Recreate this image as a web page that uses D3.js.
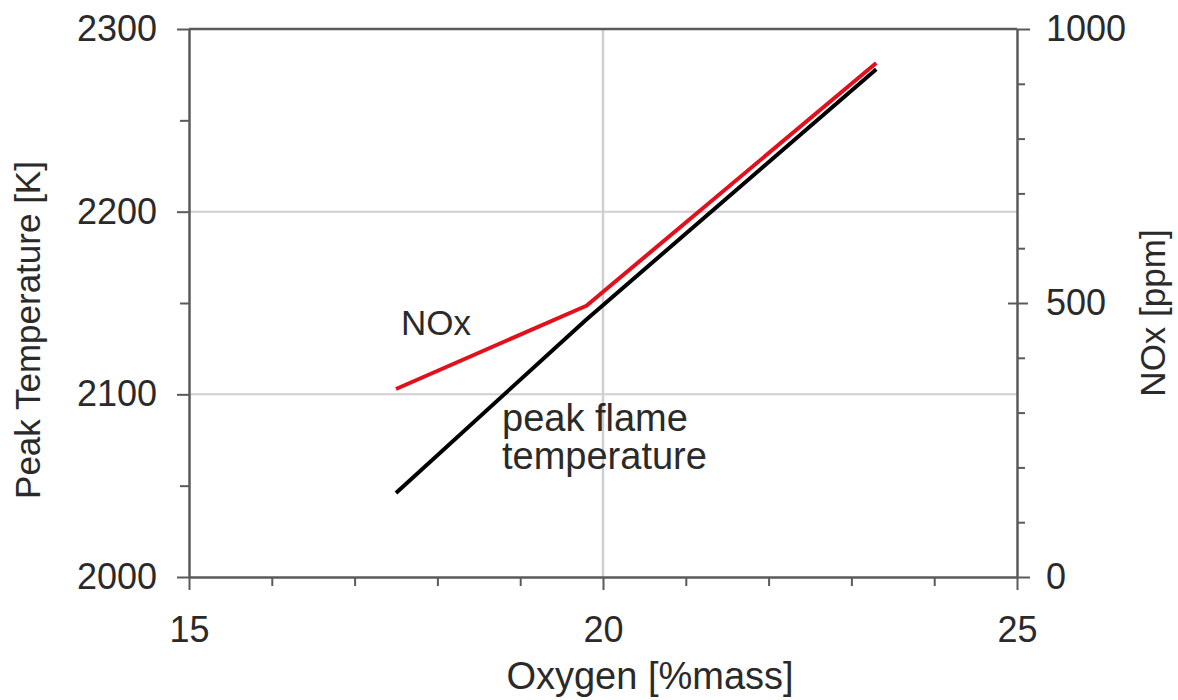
<!DOCTYPE html>
<html>
<head>
<meta charset="utf-8">
<script src="https://cdn.jsdelivr.net/npm/d3@7"></script>
<style>
  html, body { margin: 0; padding: 0; background: #fff; }
  svg { display: block; font-family: "Liberation Sans", Arial, sans-serif; }
</style>
</head>
<body>
<svg id="chart" width="1178" height="700"></svg>
<script>
// ---- data ----
const oxygen = [17.5, 19.8, 23.3];          // %mass
const peakTemp = [2046, 2141, 2278];        // K
const noxPpm = [343, 495, 938];             // ppm

const xTicks = [15, 20, 25];
const xMinorTicks = [16, 17, 18, 19, 21, 22, 23, 24];
const tempTicks = [2000, 2100, 2200, 2300];
const tempMinorTicks = [2050, 2150, 2250];
const noxTicks = [0, 500, 1000];
const noxMinorTicks = [100, 200, 300, 400, 600, 700, 800, 900];
const tempGrid = [2100, 2200];
const xGrid = [20];

const xTitle = "Oxygen [%mass]";
const yLeftTitle = "Peak Temperature [K]";
const yRightTitle = "NOx [ppm]";
const noxLabel = "NOx";
const tempLabel = ["peak flame", "temperature"];

// ---- layout ----
const L = 189, R = 1017, T = 29, B = 577;
const svg = d3.select("#chart");
const x = d3.scaleLinear().domain([15, 25]).range([L, R]);
const yT = d3.scaleLinear().domain([2000, 2300]).range([B, T]);
const yN = d3.scaleLinear().domain([0, 1000]).range([B, T]);

const axisColor = "#5a5a5a";
const gridColor = "#cfcfcf";
const textColor = "#2a2a2a";

// gridlines
svg.append("g").selectAll("line").data(tempGrid).join("line")
  .attr("x1", L).attr("x2", R)
  .attr("y1", d => yT(d)).attr("y2", d => yT(d))
  .attr("stroke", gridColor).attr("stroke-width", 2);
svg.append("g").selectAll("line").data(xGrid).join("line")
  .attr("x1", d => x(d)).attr("x2", d => x(d))
  .attr("y1", T).attr("y2", B)
  .attr("stroke", gridColor).attr("stroke-width", 2.5);

// top frame
svg.append("line").attr("x1", L).attr("x2", R).attr("y1", T).attr("y2", T)
  .attr("stroke", axisColor).attr("stroke-width", 2.5);

function styleAxis(g) {
  g.select(".domain").attr("stroke", axisColor).attr("stroke-width", 2.5);
  g.selectAll(".tick line").attr("stroke", axisColor).attr("stroke-width", 2);
  g.selectAll(".tick text").attr("fill", textColor).attr("font-size", 36)
    .attr("font-family", '"Liberation Sans", Arial, sans-serif');
}

// left axis
const gl = svg.append("g").attr("transform", `translate(${L},0)`)
  .call(d3.axisLeft(yT).tickValues(tempTicks).tickSize(12).tickSizeOuter(0).tickPadding(20).tickFormat(d3.format("d")));
styleAxis(gl);
svg.append("g").attr("transform", `translate(${L},0)`)
  .call(d3.axisLeft(yT).tickValues(tempMinorTicks).tickSize(9).tickSizeOuter(0).tickFormat(""))
  .call(g => { g.select(".domain").remove(); g.selectAll(".tick line").attr("stroke", axisColor).attr("stroke-width", 2); });

// right axis
const gr = svg.append("g").attr("transform", `translate(${R},0)`)
  .call(d3.axisRight(yN).tickValues(noxTicks).tickSize(13).tickSizeOuter(0).tickPadding(16).tickFormat(d3.format("d")));
styleAxis(gr);
gr.selectAll(".tick line").attr("x1", d => d === 500 ? -9 : 0).attr("x2", d => d === 500 ? 11 : 13);
svg.append("g").attr("transform", `translate(${R},0)`)
  .call(d3.axisRight(yN).tickValues(noxMinorTicks).tickSize(8).tickSizeOuter(0).tickFormat(""))
  .call(g => { g.select(".domain").remove(); g.selectAll(".tick line").attr("stroke", axisColor).attr("stroke-width", 2); });

// bottom axis
const gb = svg.append("g").attr("transform", `translate(0,${B})`)
  .call(d3.axisBottom(x).tickValues(xTicks).tickSize(13).tickSizeOuter(0).tickPadding(26).tickFormat(d3.format("d")));
styleAxis(gb);
svg.append("g").attr("transform", `translate(0,${B})`)
  .call(d3.axisBottom(x).tickValues(xMinorTicks).tickSize(9).tickSizeOuter(0).tickFormat(""))
  .call(g => { g.select(".domain").remove(); g.selectAll(".tick line").attr("stroke", axisColor).attr("stroke-width", 2); });

// axis titles
svg.append("text").attr("x", 650).attr("y", 689).attr("text-anchor", "middle")
  .attr("font-size", 38).attr("fill", textColor).text(xTitle);
svg.append("text").attr("transform", "translate(40,330) rotate(-90)").attr("text-anchor", "middle")
  .attr("font-size", 35).attr("fill", textColor).text(yLeftTitle);
svg.append("text").attr("transform", "translate(1165,313) rotate(-90)").attr("text-anchor", "middle")
  .attr("font-size", 35).attr("fill", textColor).text(yRightTitle);

// lines
const idx = d3.range(oxygen.length);
svg.append("path").datum(idx)
  .attr("d", d3.line().x(i => x(oxygen[i])).y(i => yT(peakTemp[i])))
  .attr("fill", "none").attr("stroke", "#000").attr("stroke-width", 4).attr("stroke-linejoin", "round");
svg.append("path").datum(idx)
  .attr("d", d3.line().x(i => x(oxygen[i])).y(i => yN(noxPpm[i])))
  .attr("fill", "none").attr("stroke", "#e3101c").attr("stroke-width", 4).attr("stroke-linejoin", "round");

// annotations
svg.append("text").attr("x", 401).attr("y", 335).attr("font-size", 35).attr("fill", textColor).text(noxLabel);
svg.append("text").attr("x", 502).attr("font-size", 38).attr("fill", textColor)
  .selectAll("tspan").data(tempLabel).join("tspan")
  .attr("x", 502).attr("y", (d, i) => 431 + i * 38).text(d => d);
</script>
</body>
</html>
